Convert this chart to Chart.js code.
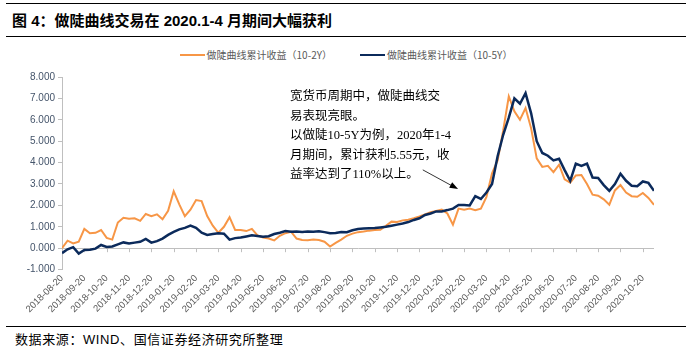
<!DOCTYPE html>
<html>
<head>
<meta charset="utf-8">
<script src="https://cdn.jsdelivr.net/npm/chart.js@4.4.1/dist/chart.umd.min.js"></script>
<style>
body{margin:0;width:692px;height:351px;background:#fff;position:relative;overflow:hidden;font-family:"Liberation Sans","Noto Sans CJK SC",sans-serif}
.rule{position:absolute;left:6px;right:6px;height:0;border-top:1.5px solid #000}
#title{position:absolute;left:12px;top:12px;font-size:15px;line-height:18px;font-weight:bold;color:#000;white-space:nowrap}
#legend{position:absolute;left:0;width:692px;top:47px;display:flex;justify-content:center;gap:28px;font-family:"Noto Sans CJK SC",sans-serif;font-size:10px;color:#595959;line-height:16px}
#legend span{display:inline-flex;align-items:center}
#legend i{display:inline-block;width:25px;height:2px;margin-right:2px}
#wrap{position:absolute;left:0;top:40px;width:692px;height:278px}
#src{position:absolute;left:15px;top:331px;font-size:13px;line-height:18px;color:#000;letter-spacing:0.6px;white-space:nowrap;font-family:"Liberation Sans","Noto Sans CJK SC",sans-serif}
</style>
</head>
<body>
<div class="rule" style="top:3px"></div>
<div id="title">图 4：做陡曲线交易在 2020.1-4 月期间大幅获利</div>
<div class="rule" style="top:36px"></div>
<div id="legend"></div>
<div id="wrap"><canvas id="grafica"></canvas></div>
<div class="rule" style="top:326px"></div>
<div id="src">数据来源：WIND、国信证券经济研究所整理</div>
<script>
// etiquetas mensuales del eje x
const tickLabels = [
  '2018-08-20','2018-09-20','2018-10-20','2018-11-20','2018-12-20',
  '2019-01-20','2019-02-20','2019-03-20','2019-04-20','2019-05-20',
  '2019-06-20','2019-07-20','2019-08-20','2019-09-20','2019-10-20',
  '2019-11-20','2019-12-20','2020-01-20','2020-02-20','2020-03-20',
  '2020-04-20','2020-05-20','2020-06-20','2020-07-20','2020-08-20',
  '2020-09-20','2020-10-20'
];
const seriesNames = ['做陡曲线累计收益（10-2Y）', '做陡曲线累计收益（10-5Y）'];
const seriesColors = ['#F79646', '#0B2A5B'];
const step = 0.25; // un punto cada cuarto de mes

// 10-2Y
const curve102 = [
  0.00,0.35,0.22,0.30,0.90,0.70,0.72,0.85,0.48,0.40,
  1.20,1.42,1.38,1.40,1.28,1.60,1.50,1.58,1.35,1.75,
  2.66,2.05,1.50,1.80,2.25,2.20,1.50,1.05,0.72,1.00,
  1.45,0.85,0.85,0.80,0.90,0.60,0.50,0.45,0.36,0.58,
  0.70,0.77,0.45,0.38,0.37,0.40,0.38,0.30,0.08,0.25,
  0.40,0.58,0.68,0.75,0.78,0.82,0.85,0.86,1.05,1.24,
  1.22,1.30,1.33,1.40,1.48,1.58,1.68,1.74,1.80,1.62,
  1.10,1.85,1.80,1.85,1.78,1.85,2.40,3.50,4.10,5.50,
  7.10,6.40,6.00,6.55,5.60,4.20,3.80,3.85,3.55,3.90,
  3.22,3.06,3.40,3.42,3.00,2.50,2.45,2.28,2.03,2.70,
  2.95,2.60,2.43,2.40,2.58,2.35,2.03
];
// 10-5Y
const curve105 = [
  -0.23,-0.05,0.05,-0.25,-0.08,-0.07,-0.02,0.15,0.06,0.08,
  0.18,0.27,0.22,0.26,0.30,0.43,0.26,0.33,0.45,0.62,
  0.76,0.88,0.95,1.06,0.95,0.72,0.62,0.66,0.70,0.68,
  0.40,0.47,0.50,0.55,0.60,0.57,0.53,0.56,0.66,0.72,
  0.80,0.77,0.78,0.76,0.78,0.77,0.79,0.75,0.70,0.71,
  0.76,0.75,0.84,0.90,0.92,0.93,0.94,0.97,1.00,1.05,
  1.10,1.15,1.22,1.32,1.40,1.55,1.62,1.72,1.72,1.78,
  1.85,2.02,2.02,2.00,2.43,2.30,2.60,3.00,4.30,5.30,
  6.10,7.00,6.75,7.25,6.30,5.00,4.45,4.32,4.10,4.18,
  3.65,3.15,3.95,3.85,3.95,3.30,3.28,2.95,2.68,3.00,
  3.48,3.15,2.92,2.90,3.12,3.05,2.68
];

const noteLines = [
  '宽货币周期中，做陡曲线交',
  '易表现亮眼。',
  '以做陡10-5Y为例，2020年1-4',
  '月期间，累计获利5.55元，收',
  '益率达到了110%以上。'
];

function toPoints(arr) {
  return arr.map((v, i) => ({ x: i * step, y: v }));
}

// leyenda en html
const legendEl = document.getElementById('legend');
seriesNames.forEach((n, i) => {
  const s = document.createElement('span');
  s.innerHTML = '<i style="background:' + seriesColors[i] + '"></i>' + n;
  legendEl.appendChild(s);
});

// marcas del eje x sobre la linea del cero + nota con flecha
const extras = {
  id: 'extras',
  beforeDatasetsDraw(chart) {
    const ctx = chart.ctx;
    const x = chart.scales.x, y = chart.scales.y;
    const y0 = y.getPixelForValue(0);
    ctx.save();
    ctx.strokeStyle = '#bfbfbf';
    ctx.lineWidth = 1;
    ctx.beginPath();
    for (let m = 0; m < tickLabels.length; m++) {
      const px = Math.round(x.getPixelForValue(m)) + 0.5;
      ctx.moveTo(px, y0);
      ctx.lineTo(px, y0 + 4);
    }
    ctx.stroke();
    ctx.restore();
  },
  afterDatasetsDraw(chart) {
    const ctx = chart.ctx;
    const x = chart.scales.x, y = chart.scales.y;
    ctx.save();
    ctx.fillStyle = '#000';
    ctx.font = '12.5px "Liberation Serif", "Noto Sans CJK SC"';
    ctx.textBaseline = 'middle';
    const tx = 290, ty = 57, lh = 19.5;
    noteLines.forEach((t, i) => ctx.fillText(t, tx, ty + i * lh));
    // flecha
    const x1 = x.getPixelForValue(16.15), y1 = y.getPixelForValue(3.66);
    const x2 = x.getPixelForValue(17.73), y2 = y.getPixelForValue(2.76);
    const ang = Math.atan2(y2 - y1, x2 - x1);
    ctx.strokeStyle = '#000';
    ctx.lineWidth = 0.8;
    ctx.beginPath();
    ctx.moveTo(x1, y1);
    ctx.lineTo(x2 - 7 * Math.cos(ang), y2 - 7 * Math.sin(ang));
    ctx.stroke();
    ctx.beginPath();
    ctx.moveTo(x2, y2);
    ctx.lineTo(x2 - 9 * Math.cos(ang - 0.35), y2 - 9 * Math.sin(ang - 0.35));
    ctx.lineTo(x2 - 9 * Math.cos(ang + 0.35), y2 - 9 * Math.sin(ang + 0.35));
    ctx.closePath();
    ctx.fill();
    ctx.restore();
  }
};

const ctx = document.getElementById('grafica').getContext('2d');
const myChart = new Chart(ctx, {
  type: 'line',
  data: {
    datasets: [{
      label: seriesNames[0],
      data: toPoints(curve102),
      borderColor: seriesColors[0],
      backgroundColor: seriesColors[0],
      borderWidth: 2,
      pointRadius: 0,
      order: 1
    }, {
      label: seriesNames[1],
      data: toPoints(curve105),
      borderColor: seriesColors[1],
      backgroundColor: seriesColors[1],
      borderWidth: 2.5,
      pointRadius: 0,
      order: 0
    }]
  },
  options: {
    responsive: true,
    maintainAspectRatio: false,
    animation: false,
    layout: { padding: { top: 37, right: 38, left: 0, bottom: 0 } },
    plugins: {
      legend: { display: false },
      tooltip: { enabled: false }
    },
    scales: {
      x: {
        type: 'linear',
        min: 0,
        max: 26.5,
        border: { display: false },
        grid: { display: false, drawTicks: false },
        ticks: {
          stepSize: 1,
          includeBounds: false,
          autoSkip: false,
          minRotation: 45,
          maxRotation: 45,
          padding: 3,
          color: '#595959',
          font: { size: 9.5, family: 'Liberation Sans' },
          callback: (v) => Number.isInteger(v) && tickLabels[v] ? tickLabels[v] : ''
        }
      },
      y: {
        min: -1,
        max: 8,
        afterFit(scale) { scale.width = 62; },
        border: { display: true, color: '#bfbfbf' },
        grid: {
          color: (c) => c.tick && c.tick.value === 0 ? '#bfbfbf' : 'rgba(0,0,0,0)',
          tickColor: '#bfbfbf',
          tickLength: 4
        },
        ticks: {
          stepSize: 1,
          padding: 3,
          color: '#44546A',
          font: { size: 10, family: 'Liberation Sans' },
          callback: (v) => v.toFixed(3)
        }
      }
    }
  },
  plugins: [extras]
});
</script>
</body>
</html>
